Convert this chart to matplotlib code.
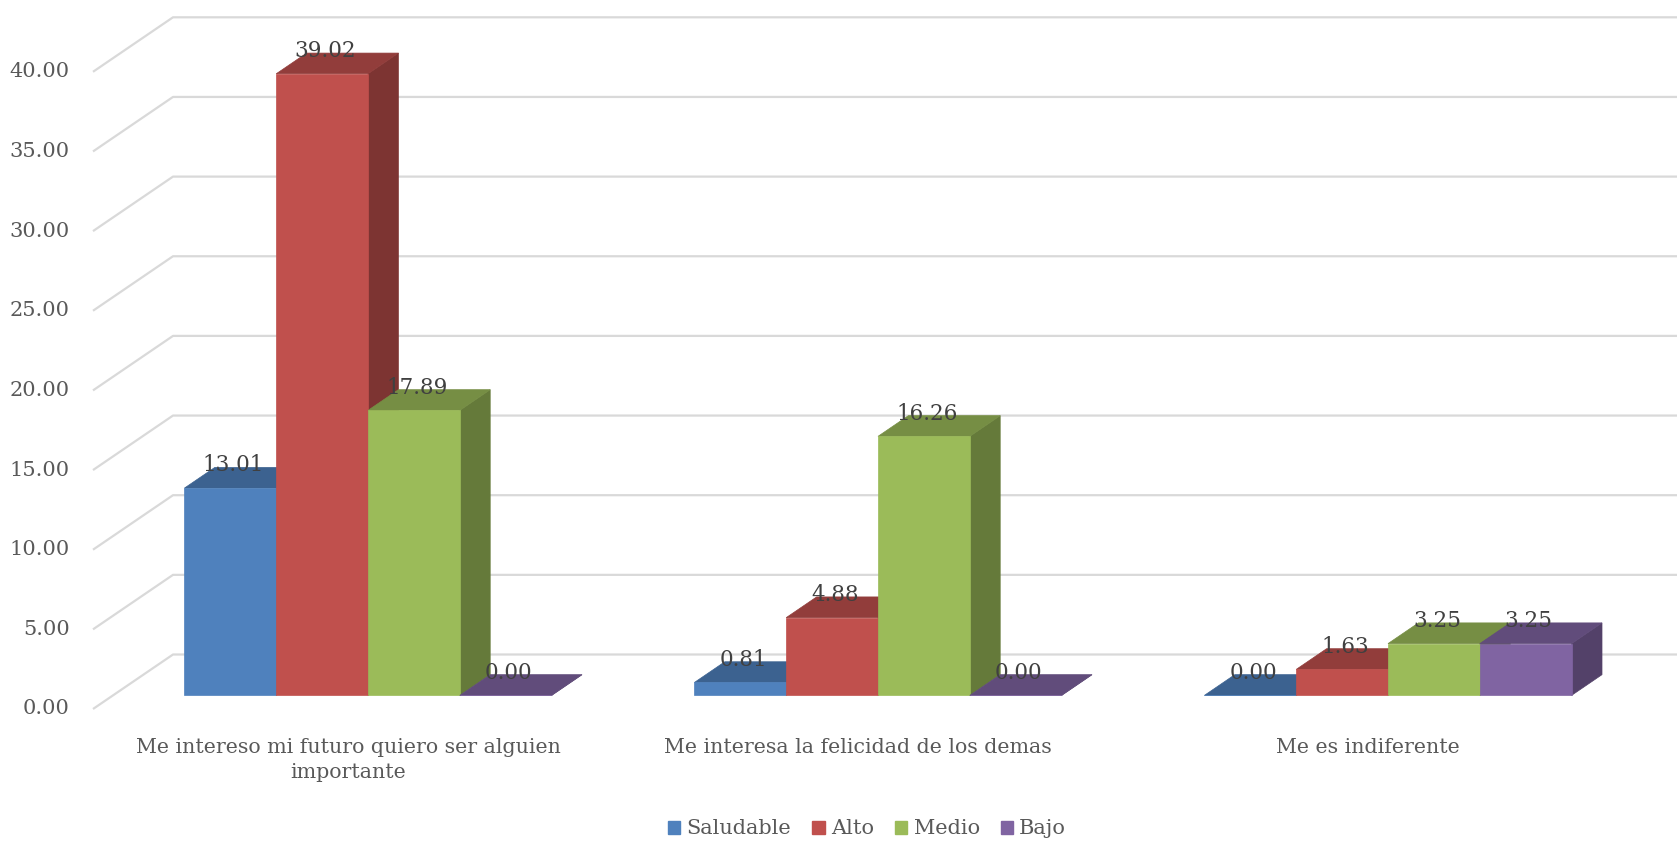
#grafico de barras con efecto 3D (estilo Excel)
import numpy as np
import matplotlib.pyplot as plt
from matplotlib.patches import Polygon, Patch
from matplotlib.colors import to_rgb

plt.rcParams['font.family'] = ['DejaVu Serif']

#datos del grafico
categorias = ["Me intereso mi futuro quiero ser alguien\nimportante",
              "Me interesa la felicidad de los demas",
              "Me es indiferente"]
series = ["Saludable", "Alto", "Medio", "Bajo"]
saludable = [13.01, 0.81, 0.00]
alto = [39.02, 4.88, 1.63]
medio = [17.89, 16.26, 3.25]
bajo = [0.00, 0.00, 3.25]
valores_y = [0, 5, 10, 15, 20, 25, 30, 35, 40]

colores = ['#4F81BD', '#C0504D', '#9BBB59', '#8064A2']
datos = [saludable, alto, medio, bajo]

#parametros de la proyeccion oblicua (en pixeles)
W, H = 1677, 842
X0, Y0 = 93, 709      #esquina frontal del piso
K = 15.93             #pixeles por unidad
CAT_W = 510           #ancho de cada categoria
DX, DY = 80, 54.5     #desplazamiento de profundidad
ANCHO = 0.18          #ancho de barra en unidades de categoria
D0, D1 = 0.25, 0.63   #profundidad de las barras


def proj(c, v, d):
    return X0 + c * CAT_W + d * DX, Y0 - v * K - d * DY


def sombra(color, f):
    r, g, b = to_rgb(color)
    return (r * f, g * f, b * f)


fig = plt.figure(figsize=(W / 100, H / 100), dpi=100)
ax = fig.add_axes([0, 0, 1, 1])
ax.set_xlim(0, W)
ax.set_ylim(H, 0)
ax.axis('off')

#lineas de la cuadricula
for v in valores_y:
    x1, y1 = proj(0, v, 0)
    x2, y2 = proj(0, v, 1)
    x3, y3 = proj(len(categorias) + 0.3, v, 1)
    ax.plot([x1, x2, x3], [y1, y2, y3], color='#D9D9D9', lw=1.6, zorder=1,
            solid_capstyle='butt')
    ax.text(x1 - 23, y1, f"{v:.2f}", ha='right', va='center',
            fontsize=15, color='#595959')

#barras
etiquetas = []
for i in range(len(categorias)):
    inicio = i + 0.5 - 2 * ANCHO
    for j, serie in enumerate(datos):
        v = serie[i]
        a = inicio + j * ANCHO
        b = a + ANCHO
        frente = [proj(a, 0, D0), proj(b, 0, D0), proj(b, v, D0), proj(a, v, D0)]
        lado = [proj(b, 0, D0), proj(b, 0, D1), proj(b, v, D1), proj(b, v, D0)]
        techo = [proj(a, v, D0), proj(b, v, D0), proj(b, v, D1), proj(a, v, D1)]
        c = colores[j]
        ax.add_patch(Polygon(lado, closed=True, fc=sombra(c, 0.65),
                             ec=sombra(c, 0.65), lw=0.5, zorder=2))
        ax.add_patch(Polygon(techo, closed=True, fc=sombra(c, 0.76),
                             ec=sombra(c, 0.76), lw=0.5, zorder=2))
        ax.add_patch(Polygon(frente, closed=True, fc=c, ec=c, lw=0.5, zorder=2))
        xe = proj((a + b) / 2, v, D0)[0] + 3
        ye = proj(a, v, D1)[1] - 2
        etiquetas.append((xe, ye, f"{v:.2f}"))

#etiquetas de datos encima de todo
for xe, ye, txt in etiquetas:
    ax.text(xe, ye, txt, ha='center', va='center', fontsize=15.5,
            color='#404040', zorder=5)

#etiquetas de categorias
for i, cat in enumerate(categorias):
    xc, yc = proj(i + 0.5, 0, 0)
    ax.text(xc, yc + 29, cat, ha='center', va='top', fontsize=14.8,
            color='#595959', linespacing=1.4)

#leyenda
manejadores = [Patch(color=c) for c in colores]
fig.legend(manejadores, series, loc='center', bbox_to_anchor=(0.517, 1 - 829 / H),
           ncol=4, frameon=False, fontsize=15, handlelength=0.6,
           handleheight=0.6, handletextpad=0.3, columnspacing=1.0,
           labelcolor='#595959')

fig.savefig('out.png', dpi=100)
